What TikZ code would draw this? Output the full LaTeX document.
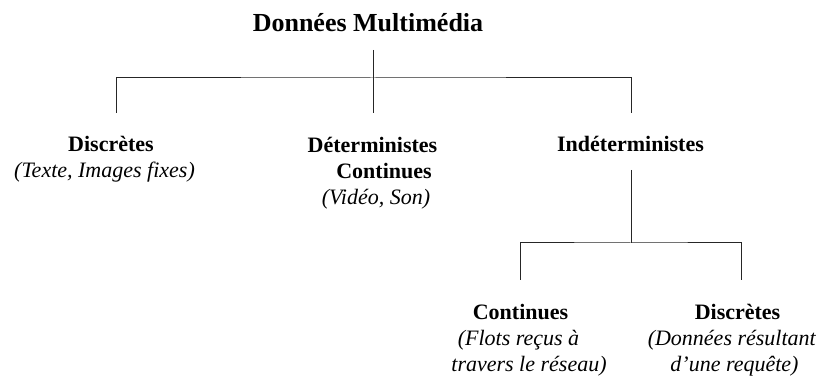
\documentclass[tikz,border=0pt]{standalone}
\usepackage{fontspec}
\setmainfont{Liberation Serif}
\usepackage{tikz}
\tikzstyle{rootbox}  = [font=\fontsize{26}{30}\selectfont\bfseries, inner sep=0pt, anchor=base]
\tikzstyle{classbox} = [font=\fontsize{22}{26}\selectfont, align=center, inner sep=0pt, anchor=base]
\tikzstyle{branch}   = [line width=1pt, black!85]

\begin{document}
\begin{tikzpicture}[x=1pt, y=1pt]
    \useasboundingbox (0,0) rectangle (817,377);

    % base of each node = baseline of its last line
    \node (root)   [rootbox]  at (368,345) {Données Multimédia};
    \node (discr)  [classbox] at (104.5,199) {\hspace*{13pt}\textbf{Discrètes}\\\textit{(Texte, Images fixes)}};
    \node (determ) [classbox] at (372.5,172.5) {\textbf{Déterministes}\\\hspace*{23pt}\textbf{Continues}\\\hspace*{7pt}\textit{(Vidéo, Son)}};
    \node (indet)  [classbox] at (630.5,225) {\textbf{Indéterministes}};
    \node (cont)   [classbox] at (529,5) {\hspace*{-17pt}\textbf{Continues}\\\hspace*{-21pt}\textit{(Flots reçus à}\\\textit{travers le réseau)}};
    \node (discr2) [classbox] at (732,5) {\hspace*{11pt}\textbf{Discrètes}\\\textit{(Données résultant}\\\hspace*{5pt}\textit{d’une requête)}};

    % first level
    \coordinate (root-s)   at (373,327);
    \coordinate (hub)      at (373,299);
    \coordinate (discr-n)  at (116,264);
    \coordinate (determ-n) at (373,264);
    \coordinate (indet-n)  at (631,264);
    \draw [branch] (root-s) -- (determ-n);
    \draw [branch] (discr-n) |- (hub) -| (indet-n);

    % second level
    \coordinate (indet-s)  at (631,207);
    \coordinate (hub2)     at (631,134);
    \coordinate (cont-n)   at (520,97);
    \coordinate (discr2-n) at (741,97);
    \draw [branch] (indet-s) -- (hub2);
    \draw [branch] (cont-n) |- (hub2) -| (discr2-n);

\end{tikzpicture}
\end{document}
